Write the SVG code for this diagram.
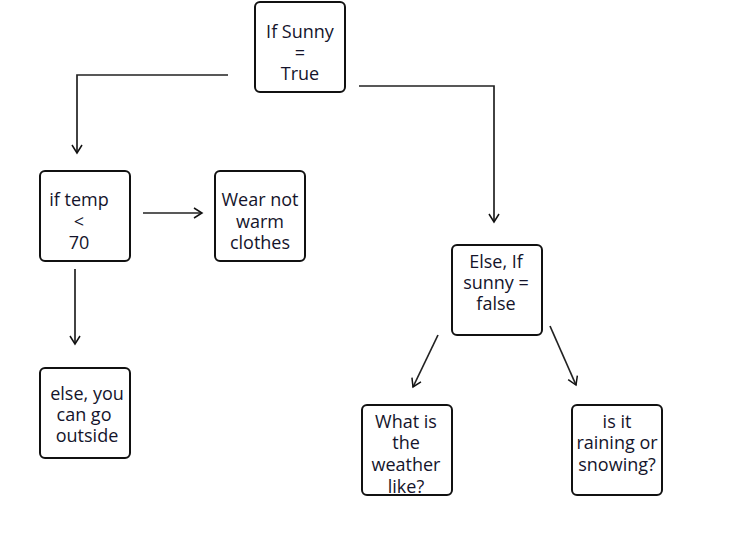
<svg xmlns="http://www.w3.org/2000/svg" width="742" height="547" viewBox="0 0 742 547">
<defs>
<marker id="arr" markerWidth="12" markerHeight="12" refX="10" refY="6" orient="auto" markerUnits="userSpaceOnUse">
<path d="M2,1 L10,6 L2,11" fill="none" stroke="#111" stroke-width="1.5"/>
</marker>
</defs>
<style>
.box{fill:#fff;stroke:#111;stroke-width:2}
.t{font-family:"Open Sans",sans-serif;font-size:18px;fill:#14142b;text-anchor:middle}
.c{fill:none;stroke:#222;stroke-width:1.7}
</style>
<rect width="742" height="547" fill="#fff"/>
<g id="connectors">
<path class="c" d="M228,75 H77 V153" marker-end="url(#arr)"/>
<path class="c" d="M359,86 H494 V222" marker-end="url(#arr)"/>
<path class="c" d="M143,213 H202" marker-end="url(#arr)"/>
<path class="c" d="M75,269 V344" marker-end="url(#arr)"/>
<path class="c" d="M438,335 L413,387" marker-end="url(#arr)"/>
<path class="c" d="M550,326 L576,385" marker-end="url(#arr)"/>
</g>
<g id="n1">
<rect class="box" x="255" y="2" width="90" height="90" rx="5"/>
<text class="t" x="300" y="38">If Sunny</text>
<text class="t" x="300" y="59">=</text>
<text class="t" x="300" y="80">True</text>
</g>
<g id="n2">
<rect class="box" x="40" y="171" width="90" height="90" rx="5"/>
<text class="t" x="79" y="206">if temp</text>
<text class="t" x="79" y="228">&lt;</text>
<text class="t" x="79" y="249">70</text>
</g>
<g id="n3">
<rect class="box" x="215" y="171" width="90" height="90" rx="5"/>
<text class="t" x="260" y="206">Wear not</text>
<text class="t" x="260" y="228">warm</text>
<text class="t" x="260" y="249">clothes</text>
</g>
<g id="n4">
<rect class="box" x="40" y="368" width="90" height="90" rx="5"/>
<text class="t" x="87" y="400">else, you</text>
<text class="t" x="84" y="421">can go</text>
<text class="t" x="87" y="442">outside</text>
</g>
<g id="n5">
<rect class="box" x="452" y="245" width="90" height="90" rx="5"/>
<text class="t" x="496" y="268">Else, If</text>
<text class="t" x="496" y="289">sunny =</text>
<text class="t" x="496" y="310">false</text>
</g>
<g id="n6">
<rect class="box" x="362" y="405" width="90" height="90" rx="5"/>
<text class="t" x="406" y="428">What is</text>
<text class="t" x="406" y="449">the</text>
<text class="t" x="406" y="471">weather</text>
<text class="t" x="406" y="493">like?</text>
</g>
<g id="n7">
<rect class="box" x="572" y="405" width="90" height="90" rx="5"/>
<text class="t" x="617" y="428">is it</text>
<text class="t" x="617" y="449">raining or</text>
<text class="t" x="617" y="471">snowing?</text>
</g>
</svg>
